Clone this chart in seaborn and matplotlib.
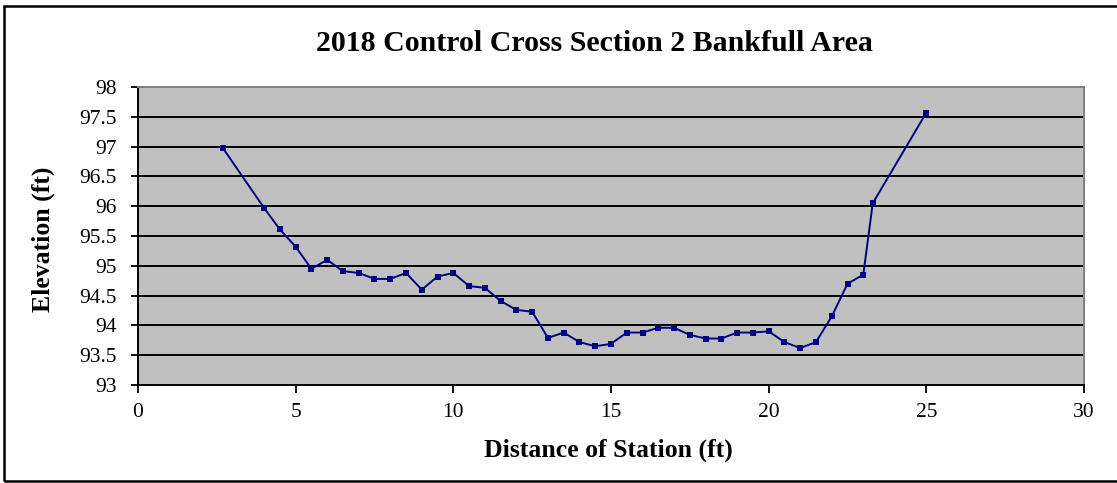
import matplotlib
matplotlib.use("Agg")
import matplotlib.pyplot as plt
from matplotlib.patches import Rectangle
import seaborn as sns
import pandas as pd

# Surveyed cross-section: station distance (ft) and ground elevation (ft)
station_ft = [2.7, 4.0, 4.5, 5.0, 5.5, 6.0, 6.5, 7.0, 7.5, 8.0, 8.5, 9.0, 9.5, 10.0,
              10.5, 11.0, 11.5, 12.0, 12.5, 13.0, 13.5, 14.0, 14.5, 15.0, 15.5, 16.0,
              16.5, 17.0, 17.5, 18.0, 18.5, 19.0, 19.5, 20.0, 20.5, 21.0, 21.5, 22.0,
              22.5, 23.0, 23.3, 25.0]
elevation_ft = [96.97, 95.97, 95.61, 95.32, 94.95, 95.10, 94.91, 94.88, 94.78, 94.78,
                94.88, 94.60, 94.82, 94.88, 94.66, 94.63, 94.41, 94.26, 94.23, 93.79,
                93.88, 93.72, 93.65, 93.69, 93.88, 93.88, 93.96, 93.96, 93.84, 93.78,
                93.78, 93.88, 93.88, 93.90, 93.72, 93.62, 93.72, 94.15, 94.70, 94.85,
                96.05, 97.57]

x_ticks = [0, 5, 10, 15, 20, 25, 30]
y_ticks = [93, 93.5, 94, 94.5, 95, 95.5, 96, 96.5, 97, 97.5, 98]
y_tick_labels = ["93", "93.5", "94", "94.5", "95", "95.5", "96", "96.5", "97", "97.5", "98"]

df = pd.DataFrame({"station": station_ft, "elevation": elevation_ft})

sns.set_theme(style="white")
plt.rcParams["font.family"] = ["Liberation Serif", "DejaVu Serif"]
plt.rcParams["text.color"] = "black"
plt.rcParams["axes.labelcolor"] = "black"

fig = plt.figure(figsize=(11.17, 4.83), dpi=100)
ax = fig.add_axes([0.1235, 0.2029, 0.8470, 0.6170])

# outer chart border (runs off the right edge)
fig.patches.append(Rectangle((0.004, 0.004), 1.02, 0.983, transform=fig.transFigure,
                             fill=False, edgecolor="black", linewidth=1.8, zorder=10))

ax.set_facecolor("#C0C0C0")
for y in y_ticks[1:-1]:
    ax.axhline(y, color="black", linewidth=1.4, zorder=1)

sns.lineplot(data=df, x="station", y="elevation", ax=ax, color="#000080",
             linewidth=1.4, marker="s", markersize=4.5, markeredgewidth=0,
             zorder=3)

ax.set_xlim(0, 30)
ax.set_ylim(93, 98)
ax.set_xticks(x_ticks)
ax.set_xticklabels([str(t) for t in x_ticks])
ax.set_yticks(y_ticks)
ax.set_yticklabels(y_tick_labels)

ax.tick_params(axis="both", which="major", width=1.3, color="black",
               labelsize=15.5, labelcolor="black", bottom=True, left=True)
ax.tick_params(axis="x", direction="out", length=6, pad=7)
ax.tick_params(axis="y", direction="inout", length=10, pad=10)

for side in ["left", "bottom"]:
    ax.spines[side].set_color("black")
    ax.spines[side].set_linewidth(1.4)
for side in ["top", "right"]:
    ax.spines[side].set_color("#808080")
    ax.spines[side].set_linewidth(1.4)

ax.set_xlabel("Distance of Station (ft)", fontsize=18.5, fontweight="bold",
              va="center", ha="center")
ax.xaxis.set_label_coords(0.497, -0.218)
ax.set_ylabel("Elevation (ft)", fontsize=18.5, fontweight="bold",
              va="center", ha="center")
ax.yaxis.set_label_coords(-0.1004, 0.49)

fig.text(0.532, 0.909, "2018 Control Cross Section 2 Bankfull Area",
         ha="center", va="center", fontsize=21.5, fontweight="bold")

fig.savefig("out.png", dpi=100, facecolor="white")
